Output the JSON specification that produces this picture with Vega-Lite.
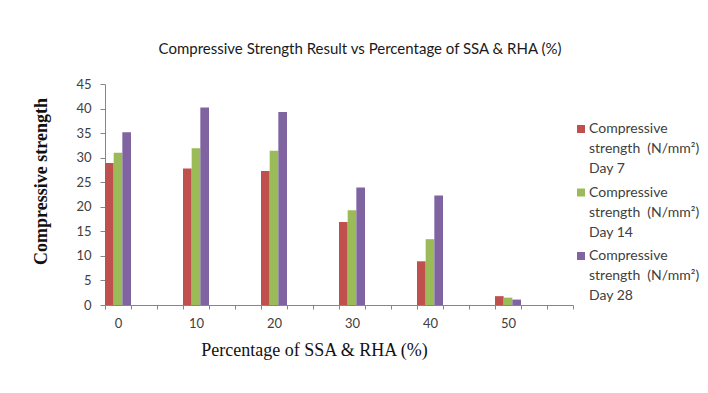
{
  "$schema": "https://vega.github.io/schema/vega-lite/v6.json",
  "autosize": {"type": "none"},
  "padding": {"left": 105, "top": 84, "right": 135, "bottom": 88},
  "width": 468,
  "height": 221,
  "background": "white",
  "title": {
    "text": "Compressive Strength Result vs Percentage of SSA & RHA (%)",
    "anchor": "middle",
    "frame": "group",
    "dx": 21,
    "offset": 21,
    "font": "Lato",
    "fontSize": 15,
    "fontWeight": "normal",
    "color": "#1a1a1a"
  },
  "data": {
    "values": [
      {"pct": "0", "series": "Day 7", "value": 28.9},
      {"pct": "0", "series": "Day 14", "value": 31.0},
      {"pct": "0", "series": "Day 28", "value": 35.2},
      {"pct": "10", "series": "Day 7", "value": 27.8},
      {"pct": "10", "series": "Day 14", "value": 31.9},
      {"pct": "10", "series": "Day 28", "value": 40.2},
      {"pct": "20", "series": "Day 7", "value": 27.3},
      {"pct": "20", "series": "Day 14", "value": 31.4},
      {"pct": "20", "series": "Day 28", "value": 39.3},
      {"pct": "30", "series": "Day 7", "value": 16.9},
      {"pct": "30", "series": "Day 14", "value": 19.3},
      {"pct": "30", "series": "Day 28", "value": 23.9},
      {"pct": "40", "series": "Day 7", "value": 8.9},
      {"pct": "40", "series": "Day 14", "value": 13.4},
      {"pct": "40", "series": "Day 28", "value": 22.3},
      {"pct": "50", "series": "Day 7", "value": 1.8},
      {"pct": "50", "series": "Day 14", "value": 1.5},
      {"pct": "50", "series": "Day 28", "value": 1.1}
    ]
  },
  "mark": {"type": "bar"},
  "encoding": {
    "x": {
      "field": "pct",
      "type": "nominal",
      "scale": {
        "domain": ["0", "a0", "b0", "10", "a10", "b10", "20", "a20", "b20", "30", "a30", "b30", "40", "a40", "b40", "50", "a50", "b50"],
        "paddingInner": 0,
        "paddingOuter": 0
      },
      "axis": {
        "title": "Percentage of SSA & RHA (%)",
        "titleFont": "Liberation Serif",
        "titleFontSize": 18,
        "titleFontWeight": "normal",
        "titleColor": "#111111",
        "titlePadding": 11,
        "titleX": 209,
        "titleAlign": "center",
        "labelAngle": 0,
        "labelExpr": "(substring(datum.label,0,1)=='a' || substring(datum.label,0,1)=='b') ? '' : datum.label",
        "labelFont": "Lato",
        "labelFontSize": 13,
        "labelColor": "#404040",
        "labelPadding": 8,
        "tickBand": "extent",
        "tickSize": 4,
        "tickColor": "#868686",
        "domainColor": "#868686",
        "grid": false
      }
    },
    "xOffset": {
      "field": "series",
      "type": "nominal",
      "scale": {"domain": ["Day 7", "Day 14", "Day 28"], "paddingInner": 0, "paddingOuter": 0}
    },
    "y": {
      "field": "value",
      "type": "quantitative",
      "scale": {"domain": [0, 45], "nice": false},
      "axis": {
        "title": "Compressive strength",
        "titleFont": "Liberation Serif",
        "titleFontSize": 18,
        "titleFontWeight": "bold",
        "titleColor": "#111111",
        "titlePadding": 25,
        "titleY": 97,
        "titleAlign": "center",
        "values": [0, 5, 10, 15, 20, 25, 30, 35, 40, 45],
        "labelFont": "Lato",
        "labelFontSize": 13,
        "labelColor": "#404040",
        "labelPadding": 9,
        "tickSize": 5,
        "tickColor": "#868686",
        "domainColor": "#868686",
        "grid": false
      }
    },
    "color": {
      "field": "series",
      "type": "nominal",
      "scale": {"domain": ["Day 7", "Day 14", "Day 28"], "range": ["#C0504D", "#9BBB59", "#8064A2"]},
      "legend": {
        "title": null,
        "orient": "none",
        "legendX": 469,
        "legendY": 42,
        "symbolType": "M -1 -2 H 1 V 0 H -1 Z",
        "symbolSize": 64,
        "symbolStrokeWidth": 0,
        "labelExpr": "['Compressive', 'strength\u00a0 (N/mm²)', datum.label]",
        "labelFont": "Lato",
        "labelFontSize": 14,
        "labelColor": "#404040",
        "labelBaseline": "alphabetic",
        "labelOffset": 1,
        "labelLimit": 200,
        "rowPadding": 9.5
      }
    }
  },
  "config": {
    "view": {"stroke": null},
    "style": {"guide-label": {"lineHeight": 20}}
  }
}
